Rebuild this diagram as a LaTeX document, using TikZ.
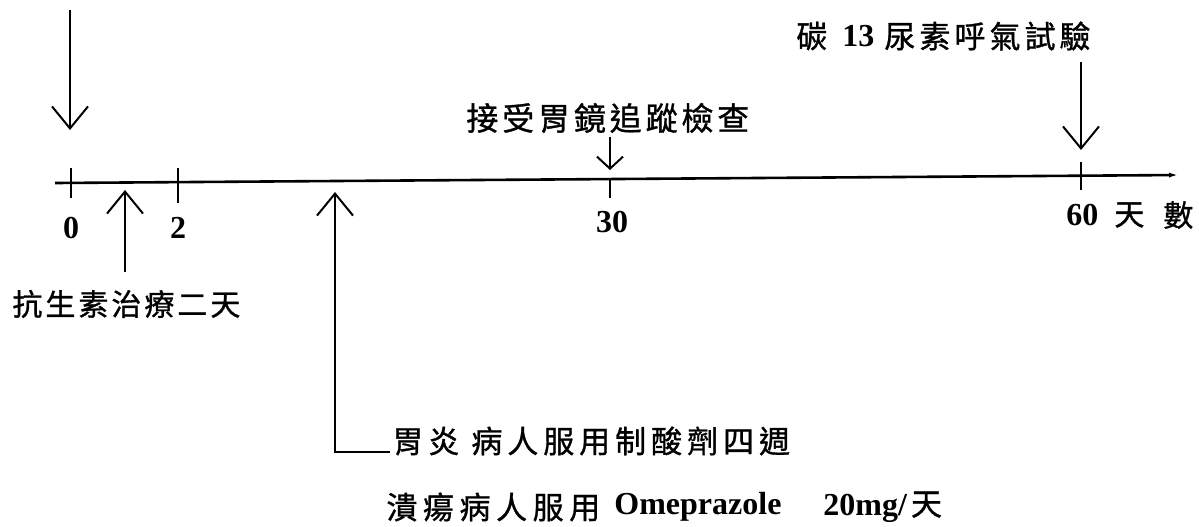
\documentclass[tikz,border=0pt]{standalone}
\usepackage{fontspec}
\setmainfont{Liberation Serif}
\newfontfamily\cjk{Noto Sans CJK TC}[FakeBold=1]
\usetikzlibrary{arrows.meta}
\newcommand\lsp[1]{\addfontfeatures{LetterSpace=#1}}
\begin{document}
\begin{tikzpicture}[x=0.5pt,y=-0.5pt,
  ax/.style={line width=1.3pt,-{Latex[length=5pt,width=2.5pt]}},
  tk/.style={line width=1.1pt},
  ev/.style={line width=1pt,-{Straight Barb[length=11pt,width=18pt,line width=1pt]}},
  evs/.style={line width=1pt,-{Straight Barb[length=6pt,width=13pt,line width=1pt]}},
  txt/.style={inner sep=0pt,anchor=west},
  num/.style={inner sep=0pt,font=\bfseries\fontsize{16}{18}\selectfont}]
\useasboundingbox (0,0) rectangle (1199,526);
% axis
\coordinate (axL) at (55,183);
\coordinate (axR) at (1179,175);
\draw[ax] (axL) -- (axR);
% ticks
\coordinate (t0a) at (71,168); \coordinate (t0b) at (71,198);
\coordinate (t2a) at (178,168); \coordinate (t2b) at (178,203);
\coordinate (t30a) at (610,180); \coordinate (t30b) at (610,198);
\coordinate (t60a) at (1081,162); \coordinate (t60b) at (1081,190);
\draw[tk] (t0a) -- (t0b);
\draw[tk] (t2a) -- (t2b);
\draw[tk] (t30a) -- (t30b);
\draw[tk] (t60a) -- (t60b);
% tick labels
\node[num] (n0) at (71,228) {0};
\node[num] (n2) at (178,228) {2};
\node[num] (n30) at (612,222) {30};
\node[num,anchor=west] (n60) at (1066,215) {60};
\node[txt,font=\cjk\fontsize{15}{16}\selectfont] (nday) at (1114,215) {天};
\node[txt,font=\cjk\fontsize{15}{16}\selectfont] (nnum) at (1163,215) {數};
% event arrows
\coordinate (a0s) at (70,10); \coordinate (a0e) at (70,130);
\draw[ev] (a0s) -- (a0e);
\coordinate (abs) at (125,272); \coordinate (abe) at (125,190);
\draw[ev] (abs) -- (abe);
\coordinate (gs) at (390,452); \coordinate (gc) at (335,452); \coordinate (ge) at (335,192);
\draw[ev] (gs) -- (gc) -- (ge);
\coordinate (es) at (610,137); \coordinate (ee) at (610,170);
\draw[evs] (es) -- (ee);
\coordinate (bs) at (1081,62); \coordinate (be) at (1081,150);
\draw[ev] (bs) -- (be);
% labels
\node[txt,font=\cjk\fontsize{15}{16}\selectfont\lsp{10}] (anti) at (12,304) {抗生素治療二天};
\node[txt,font=\cjk\fontsize{16}{18}\selectfont\lsp{12}] (endo) at (466,118) {接受胃鏡追蹤檢查};
\node[txt,font=\cjk\fontsize{15.5}{17}\selectfont] (brA) at (796,36) {碳};
\node[txt,font=\bfseries\fontsize{16}{18}\selectfont] (brB) at (842,36) {13};
\node[txt,font=\cjk\fontsize{15.5}{17}\selectfont\lsp{13}] (brC) at (884,36) {尿素呼氣試驗};
\node[txt,font=\cjk\fontsize{15.5}{17}\selectfont\lsp{16}] (gastr) at (392,441) {胃炎\hspace{6pt}病人服用制酸劑四週};
\node[txt,font=\cjk\fontsize{15.5}{17}\selectfont\lsp{18}] (ulA) at (386,507) {潰瘍病人服用};
\node[txt,font=\bfseries\fontsize{16}{18}\selectfont] (ulB) at (614,507) {Omeprazole};
\node[txt,font=\bfseries\fontsize{16}{18}\selectfont] (ulC) at (823,507) {20mg/\hspace{2pt}{\cjk\mdseries\fontsize{15.5}{17}\selectfont 天}};
\end{tikzpicture}
\end{document}
